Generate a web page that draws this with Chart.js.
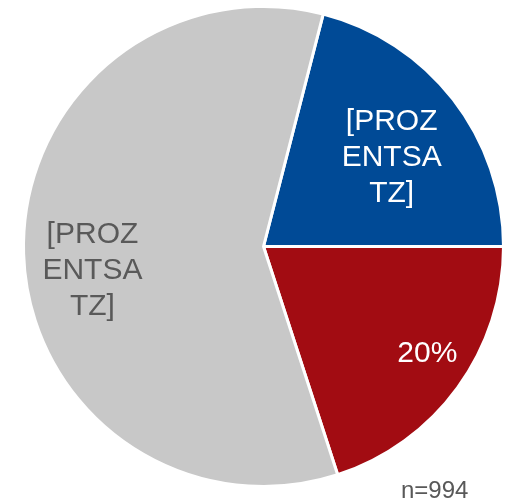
<!DOCTYPE html>
<html>
<head>
<meta charset="utf-8">
<script src="https://cdn.jsdelivr.net/npm/chart.js@4"></script>
<style>
  html, body { margin: 0; padding: 0; background: #fff; }
  #wrap { position: relative; width: 506px; height: 502px; }
  #note { position: absolute; left: 401px; top: 476px; font: 24px "Liberation Sans", Arial, sans-serif; color: #595959; }
</style>
</head>
<body>
<div id="wrap">
  <canvas id="pie" width="506" height="502"></canvas>
  <div id="note">n=994</div>
</div>
<script>
const categories = ['Blau', 'Rot', 'Grau'];
const values = [21, 20, 59];
const labels = ['[PROZ\nENTSA\nTZ]', '20%', '[PROZ\nENTSA\nTZ]'];
const colors = ['#004A96', '#A20C12', '#C8C8C8'];
const textColors = ['#ffffff', '#ffffff', '#595959'];
// where along the slice (angle share, radius share) each label sits
const labelAt = [[0.54, 0.65], [0.46, 0.815], [0.47, 0.72]];

const sliceLabels = {
  id: 'sliceLabels',
  afterDatasetsDraw(chart) {
    const ctx = chart.ctx;
    const arcs = chart.getDatasetMeta(0).data;
    ctx.save();
    ctx.font = '30px "Liberation Sans", Arial, sans-serif';
    ctx.textAlign = 'center';
    ctx.textBaseline = 'middle';
    arcs.forEach((arc, i) => {
      const p = arc.getProps(['x', 'y', 'startAngle', 'endAngle', 'outerRadius'], true);
      const a = p.startAngle + (p.endAngle - p.startAngle) * labelAt[i][0];
      const r = p.outerRadius * labelAt[i][1];
      const cx = p.x + Math.cos(a) * r;
      const cy = p.y + Math.sin(a) * r;
      const lines = labels[i].split('\n');
      const lh = 36;
      ctx.fillStyle = textColors[i];
      lines.forEach((t, k) => {
        ctx.fillText(t, cx, cy + (k - (lines.length - 1) / 2) * lh);
      });
    });
    ctx.restore();
  }
};

new Chart(document.getElementById('pie').getContext('2d'), {
  type: 'pie',
  data: {
    labels: categories,
    datasets: [{
      data: values,
      backgroundColor: colors,
      borderColor: '#ffffff',
      borderWidth: 3
    }]
  },
  options: {
    responsive: false,
    animation: false,
    rotation: 14.4,
    layout: { padding: { left: 22, right: 1, top: 5, bottom: 14 } },
    plugins: { legend: { display: false }, tooltip: { enabled: false } }
  },
  plugins: [sliceLabels]
});
</script>
</body>
</html>
